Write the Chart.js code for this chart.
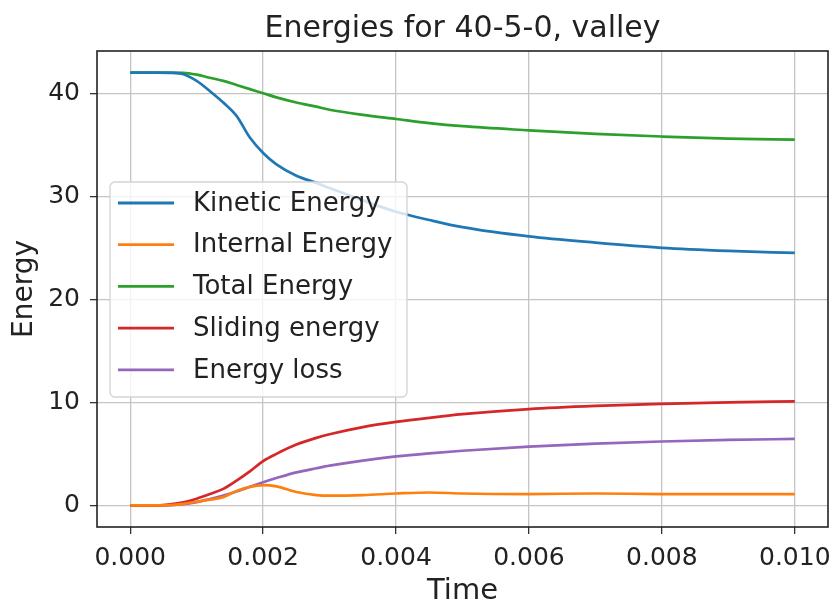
<!DOCTYPE html>
<html>
<head>
<meta charset="utf-8">
<script src="https://cdn.jsdelivr.net/npm/chart.js@4.4.1/dist/chart.umd.min.js"></script>
<style>
  html, body { margin: 0; padding: 0; background: #fff; }
  canvas { display: block; }
</style>
</head>
<body>
<canvas id="energyChart" width="835" height="607"></canvas>
<script>
// values
const times = [0, 0.0004, 0.0006, 0.0008, 0.001, 0.0012, 0.0014, 0.0016, 0.0018, 0.002,
  0.0022, 0.0025, 0.0028, 0.003, 0.0035, 0.004, 0.0045, 0.005, 0.006, 0.007, 0.008, 0.009, 0.010];
const kineticEnergy = [42, 42, 41.98, 41.85, 41.2, 40.2, 39.1, 37.8, 35.7, 34.2,
  33.1, 32.0, 31.3, 30.8, 29.6, 28.5, 27.7, 27.0, 26.1, 25.5, 25.0, 24.7, 24.5];
const internalEnergy = [0, 0, 0.03, 0.15, 0.35, 0.55, 0.8, 1.4, 1.8, 1.97,
  1.85, 1.3, 1.0, 0.95, 1.0, 1.15, 1.25, 1.15, 1.1, 1.15, 1.1, 1.1, 1.1];
const totalEnergy = [42, 42, 42, 41.98, 41.8, 41.5, 41.2, 40.8, 40.4, 40.0,
  39.6, 39.1, 38.7, 38.4, 37.9, 37.5, 37.1, 36.8, 36.4, 36.05, 35.8, 35.6, 35.5];
const slidingEnergy = [0, 0, 0.1, 0.3, 0.65, 1.1, 1.6, 2.4, 3.3, 4.3,
  5.0, 5.9, 6.55, 6.9, 7.6, 8.1, 8.5, 8.85, 9.35, 9.65, 9.85, 10.0, 10.1];
const energyLoss = [0, 0, 0.03, 0.12, 0.32, 0.6, 0.95, 1.35, 1.8, 2.25,
  2.65, 3.2, 3.6, 3.85, 4.35, 4.75, 5.05, 5.3, 5.7, 6.0, 6.2, 6.35, 6.45];

const seriesNames = ["Kinetic Energy", "Internal Energy", "Total Energy", "Sliding energy", "Energy loss"];
const seriesColors = ["#1f77b4", "#ff7f0e", "#2ca02c", "#d62728", "#9467bd"];
const seriesValues = [kineticEnergy, internalEnergy, totalEnergy, slidingEnergy, energyLoss];

const timeTicks = [0, 0.002, 0.004, 0.006, 0.008, 0.010];
const energyTicks = [0, 10, 20, 30, 40];

Chart.defaults.font.family = "'DejaVu Sans', sans-serif";
Chart.defaults.color = "#222";

// box round the plot area, like matplotlib spines
const framePlugin = {
  id: "frame",
  afterDatasetsDraw(chart) {
    const { ctx, chartArea } = chart;
    ctx.save();
    ctx.strokeStyle = "#222";
    ctx.lineWidth = 1.6;
    ctx.strokeRect(chartArea.left, chartArea.top,
      chartArea.right - chartArea.left, chartArea.bottom - chartArea.top);
    ctx.restore();
  },
};

// legend drawn inside the axes, left middle
const insideLegend = {
  id: "insideLegend",
  afterDraw(chart) {
    const ctx = chart.ctx;
    const box = { x: 110, y: 182, w: 297, h: 215, r: 5 };
    ctx.save();
    ctx.beginPath();
    ctx.roundRect(box.x, box.y, box.w, box.h, box.r);
    ctx.fillStyle = "rgba(255,255,255,0.8)";
    ctx.fill();
    ctx.strokeStyle = "#d3d3d3";
    ctx.lineWidth = 1.3;
    ctx.stroke();

    ctx.font = "26px 'DejaVu Sans'";
    ctx.textBaseline = "middle";
    ctx.textAlign = "left";
    chart.data.datasets.forEach((ds, i) => {
      const y = 203 + i * 41.7;
      ctx.strokeStyle = ds.borderColor;
      ctx.lineWidth = 2.8;
      ctx.beginPath();
      ctx.moveTo(118, y);
      ctx.lineTo(174, y);
      ctx.stroke();
      ctx.fillStyle = "#222";
      ctx.fillText(ds.label, 193, y + 1);
    });
    ctx.restore();
  },
};

const ctx = document.getElementById("energyChart").getContext("2d");
new Chart(ctx, {
  type: "line",
  data: {
    datasets: seriesNames.map((name, i) => ({
      label: name,
      data: times.map((t, j) => ({ x: t, y: seriesValues[i][j] })),
      borderColor: seriesColors[i],
      backgroundColor: seriesColors[i],
      borderWidth: 2.7,
      pointRadius: 0,
      cubicInterpolationMode: "monotone",
      fill: false,
    })),
  },
  options: {
    responsive: false,
    animation: false,
    devicePixelRatio: 1,
    layout: { padding: { left: 0, right: 7, top: 0, bottom: 0 } },
    plugins: {
      legend: { display: false },
      tooltip: { enabled: false },
      title: {
        display: true,
        text: "Energies for 40-5-0, valley",
        fullSize: false,
        color: "#222",
        font: { size: 30, weight: "normal", lineHeight: 1.2 },
        padding: { top: 11, bottom: 4 },
      },
    },
    scales: {
      x: {
        type: "linear",
        min: -0.0005,
        max: 0.0105,
        afterBuildTicks: (scale) => {
          scale.ticks = timeTicks.map((v) => ({ value: v }));
        },
        afterFit: (scale) => {
          scale.height = 80;
          scale.paddingLeft = 0;
          scale.paddingRight = 0;
        },
        ticks: {
          autoSkip: false,
          maxRotation: 0,
          padding: 9,
          color: "#222",
          font: { size: 25 },
          callback: (v) => Number(v).toFixed(3),
        },
        grid: {
          color: "#c4c4c4",
          lineWidth: 1.3,
          tickColor: "#333",
          tickLength: 7,
        },
        border: { display: false },
        title: {
          display: true,
          text: "Time",
          color: "#222",
          font: { size: 29, lineHeight: 1 },
          padding: { top: 0, bottom: 1 },
        },
      },
      y: {
        type: "linear",
        min: -2.1,
        max: 44.1,
        afterBuildTicks: (scale) => {
          scale.ticks = energyTicks.map((v) => ({ value: v }));
        },
        afterFit: (scale) => {
          scale.width = 97;
          scale.paddingTop = 0;
          scale.paddingBottom = 0;
        },
        ticks: {
          autoSkip: false,
          padding: 10,
          color: "#222",
          font: { size: 25 },
        },
        grid: {
          color: "#c4c4c4",
          lineWidth: 1.3,
          tickColor: "#333",
          tickLength: 7,
        },
        border: { display: false },
        title: {
          display: true,
          text: "Energy",
          color: "#222",
          font: { size: 28, lineHeight: 1 },
          padding: { top: 11, bottom: 0 },
        },
      },
    },
  },
  plugins: [framePlugin, insideLegend],
});
</script>
</body>
</html>
